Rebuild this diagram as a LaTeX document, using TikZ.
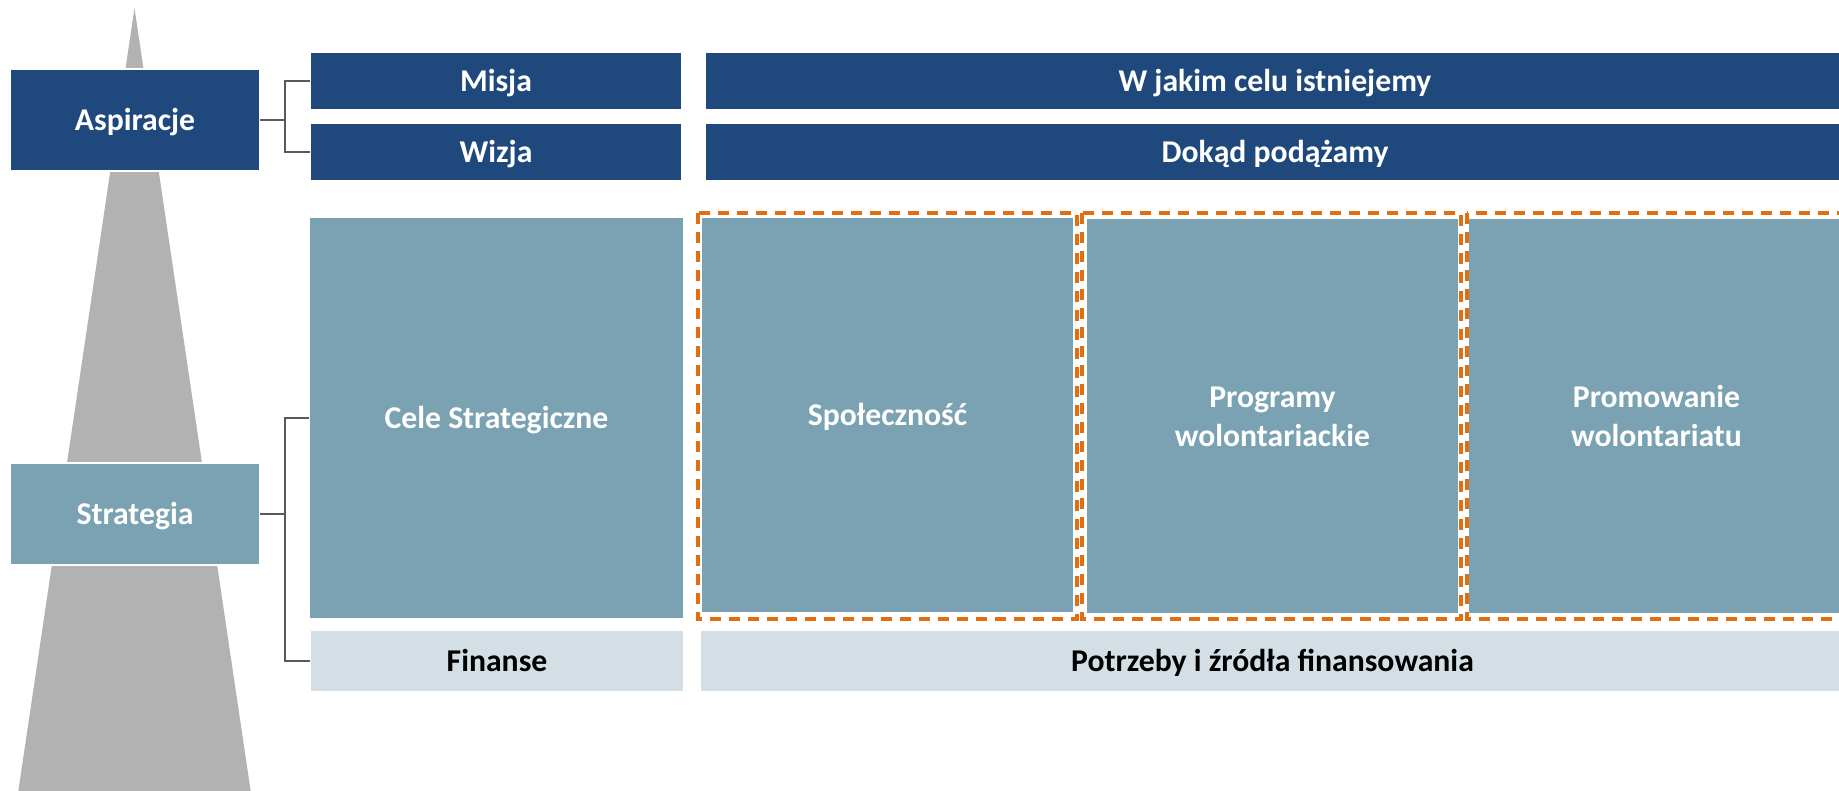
\documentclass[tikz,border=0pt]{standalone}
\usepackage{fontspec}
\setmainfont{Carlito}
\definecolor{dkblue}{RGB}{31,73,125}
\definecolor{steelc}{RGB}{122,162,178}
\definecolor{lightc}{RGB}{211,223,229}
\definecolor{grayc}{RGB}{178,178,178}
\definecolor{orangec}{RGB}{226,110,16}
\definecolor{connc}{RGB}{89,89,89}
\begin{document}
\begin{tikzpicture}[x=0.5pt,y=-0.5pt,
  every node/.style={font=\fontsize{15.85pt}{19.3pt}\selectfont\bfseries, align=center},
  onel/.style={text height=15.09pt, text depth=4.26pt},
  twol/.style={text height=34.39pt, text depth=4.26pt},
  bx/.style={rectangle, inner sep=0pt, outer sep=0pt, draw=white, line width=0.7pt},
  dark/.style={bx, fill=dkblue, text=white},
  steel/.style={bx, fill=steelc, text=white},
  light/.style={bx, fill=lightc, text=black},
  conn/.style={draw=connc, line width=1.1pt},
  dframe/.style={draw=orangec, dash pattern=on 5.5pt off 4pt, line width=1.6pt}
]
\useasboundingbox (0,0) rectangle (1839,791);
% pyramid
\fill[grayc] (134.5,8) -- (17,800) -- (252,800) -- cycle;
% left column
\node[dark, onel, minimum width=125pt, minimum height=51pt] (asp) at (135,120) {Aspiracje};
\node[steel, onel, minimum width=125pt, minimum height=51pt] (strat) at (135,514) {Strategia};
% aspirations rows
\node[dark, onel, minimum width=186pt, minimum height=29pt] (misja) at (496,81) {Misja};
\node[dark, onel, minimum width=186pt, minimum height=29pt] (wizja) at (496,152) {Wizja};
\node[dark, onel, minimum width=570pt, minimum height=29pt] (wjakim) at (1275,81) {W jakim celu istniejemy};
\node[dark, onel, minimum width=570pt, minimum height=29pt] (dokad) at (1275,152) {Dokąd podążamy};
% strategy
\node[steel, onel, minimum width=187.5pt, minimum height=201pt] (cele) at (496.5,418) {Cele Strategiczne};
\node[steel, onel, minimum width=186.5pt, minimum height=198pt] (spol) at (887.5,415) {Społeczność};
\node[steel, twol, minimum width=186.5pt, minimum height=198pt] (prog) at (1272.5,416) {Programy\\wolontariackie};
\node[steel, twol, minimum width=188.5pt, minimum height=198pt] (prom) at (1656.5,416) {Promowanie\\wolontariatu};
% finance
\node[light, onel, minimum width=187pt, minimum height=31pt] (fin) at (497,661) {Finanse};
\node[light, onel, minimum width=572.5pt, minimum height=31pt] (potrz) at (1272.5,661) {Potrzeby i źródła finansowania};
% dashed frames
\draw[dframe] (698,213) rectangle (1077,619);
\draw[dframe] (1082,213) rectangle (1461,619);
\draw[dframe] (1467,213) rectangle (1850,619);
% connectors
\coordinate (ja) at (285,120);
\coordinate (js) at (285,514);
\draw[conn] (asp.east) -- (ja);
\draw[conn] (misja.west) -| (ja);
\draw[conn] (wizja.west) -| (ja);
\draw[conn] (strat.east) -- (js);
\draw[conn] (cele.west) -| (js);
\draw[conn] (fin.west) -| (js);
\end{tikzpicture}
\end{document}
